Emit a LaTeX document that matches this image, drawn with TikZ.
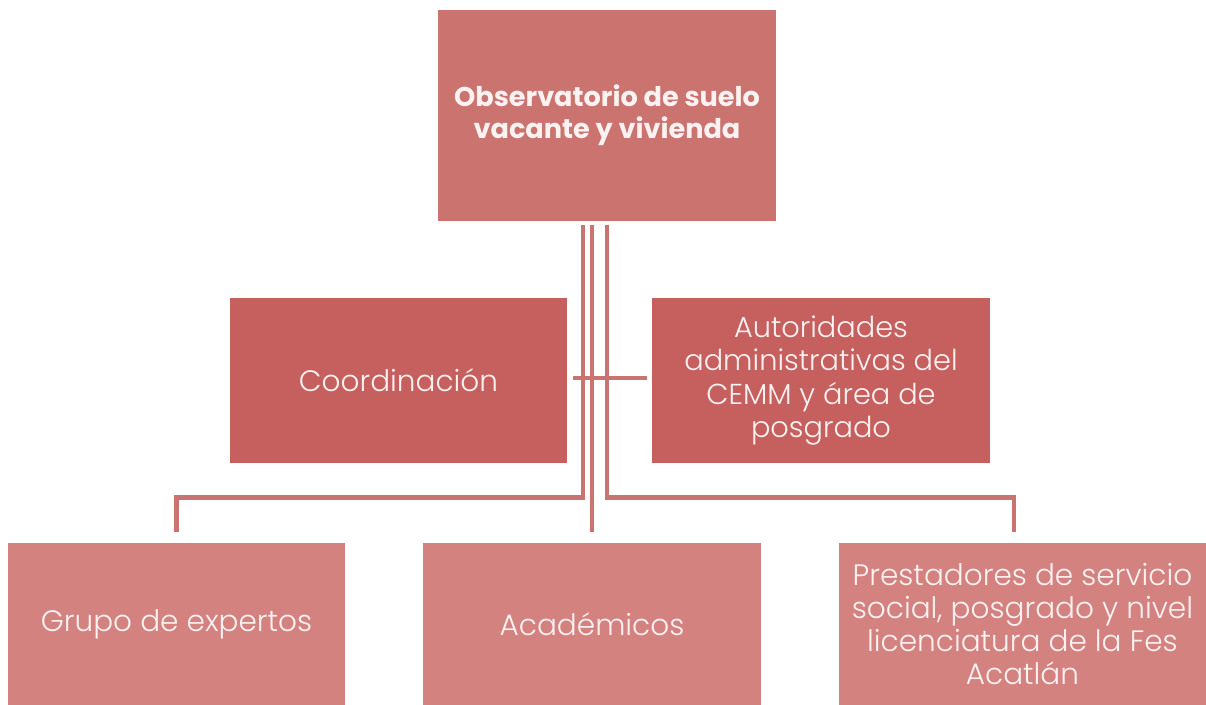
\documentclass[tikz,border=0pt]{standalone}
\usepackage{fontspec}
\setmainfont{Poppins}[UprightFont=* Light, BoldFont=* Bold]
\usetikzlibrary{calc}

\definecolor{topred}{HTML}{CB736E}
\definecolor{midred}{HTML}{C5605E}
\definecolor{lowred}{HTML}{D48280}
\definecolor{linkred}{HTML}{C97470}
\definecolor{boxtext}{HTML}{FCF2F2}

\newcommand{\px}{0.025cm}

\tikzset{
  box/.style={fill=#1, draw=none, inner sep=0pt, align=center, text=boxtext,
    font=\fontsize{21}{23.5}\selectfont},
  link/.style={draw=linkred, line width=3.5pt}
}

\begin{document}
\begin{tikzpicture}[x=\px, y=-\px]
          \useasboundingbox (0,0) rectangle (1206,705);

          \node [box=topred, minimum width=338*\px, minimum height=211*\px, font=\bfseries\fontsize{19.3}{22.8}\selectfont] (obs) at (607,115) {Observatorio de suelo\\vacante y vivienda}; % Draws a rectangle

          \node [box=midred, minimum width=337*\px, minimum height=165*\px] (coord) at (398.5,380.5) {Coordinación}; % Draws a rectangle
          \node [box=midred, minimum width=338*\px, minimum height=165*\px, font=\fontsize{20.5}{23.5}\selectfont] (aut) at (821,380.5) {Autoridades\\administrativas del\\CEMM y área de\\posgrado}; % Draws a rectangle

          \node [box=lowred, minimum width=337*\px, minimum height=162*\px] (grupo) at (176.5,624) {Grupo de expertos}; % Draws a rectangle
          \node [box=lowred, minimum width=338*\px, minimum height=162*\px] (acad) at (592,624) {Académicos}; % Draws a rectangle
          \node [box=lowred, minimum width=367*\px, minimum height=162*\px] (prest) at (1022.5,624) {Prestadores de servicio\\social, posgrado y nivel\\licenciatura de la Fes\\Acatlán}; % Draws a rectangle

          \draw [link] ($(obs.south)+(-24,4.5)$) -- ++(0,272) -| ($(grupo.north)+(0,-11)$);
          \draw [link] ($(obs.south)+(-15,4.5)$) -- ($(acad.north)+(0,-11)$);
          \draw [link] ($(obs.south)+(0,4.5)$) -- ++(0,272) -| ($(prest.north)+(-8.5,-11)$);

          \draw [link] ($(coord.east)+(6,-2.5)$) -- ($(aut.west)+(-5,-2.5)$);
        \end{tikzpicture}
\end{document}
